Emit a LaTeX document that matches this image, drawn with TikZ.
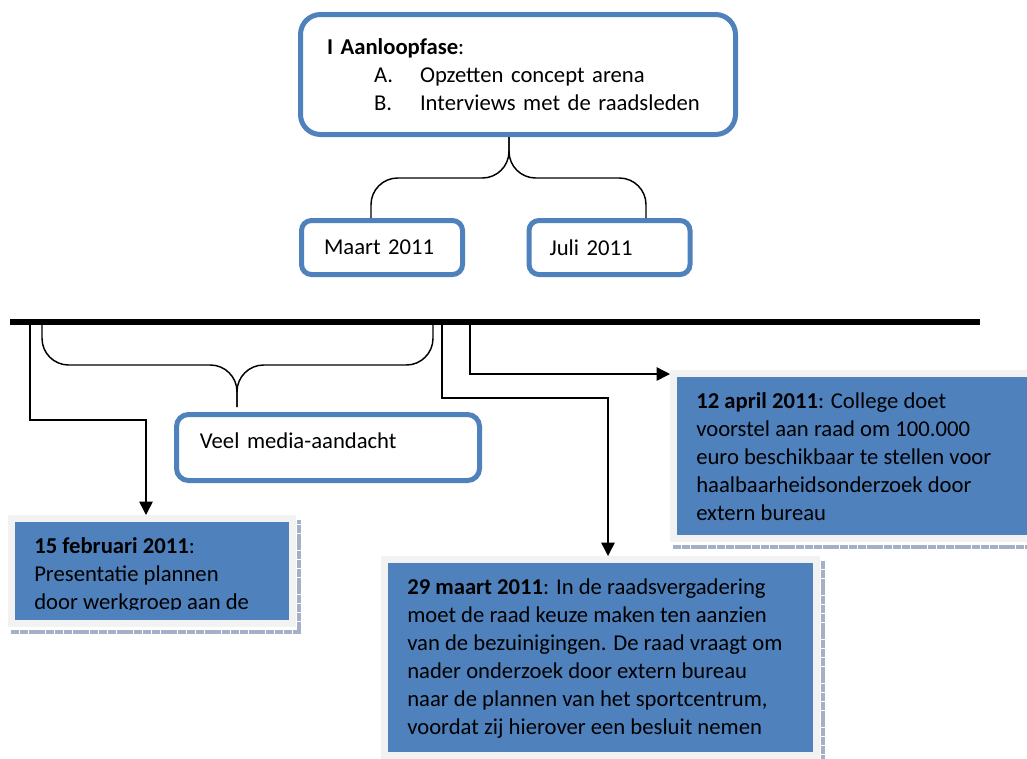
\documentclass[tikz,border=0pt]{standalone}
\usepackage{fontspec}
\setmainfont{Carlito}
\usetikzlibrary{arrows.meta}
\usetikzlibrary{positioning}

\definecolor{boxblue}{RGB}{79,129,189}
\definecolor{framegray}{RGB}{242,242,242}
\definecolor{shadowgray}{RGB}{165,176,198}

\tikzset{
  roundbox/.style={draw=boxblue, line width=3.75pt, fill=white, align=left, font=\fontsize{17}{21}\selectfont},
  datebox/.style={fill=boxblue, inner sep=0pt, outer sep=5.25pt, preaction={draw=framegray, line width=10.5pt}},
  datetext/.style={anchor=north west, inner sep=0pt, align=left, font=\fontsize{17}{21}\selectfont},
  conn/.style={draw=black, line width=1.1pt, -{Triangle[length=10pt,width=10pt]}},
  brace/.style={draw=black, line width=1.1pt, rounded corners=20pt},
  shadowline/.style={draw=shadowgray, line width=3pt, dash pattern=on 6pt off 0.6pt}
}

\begin{document}
\begin{tikzpicture}[x=0.75pt, y=-0.75pt]
    \useasboundingbox (0,0) rectangle (1027,758);
    \clip (0,0) rectangle (1027,758);

    % Aanloopfase and its two dates
    \node[roundbox, rounded corners=15pt, minimum width=326.25pt, minimum height=90pt,
          inner xsep=19.9pt, text width=286.45pt] (aanloop) at (518,74.5)
        {\textbf{I Aanloopfase}:\\
         \hspace*{35.25pt}\makebox[34.5pt][l]{A.}Opzetten concept arena\\
         \hspace*{35.25pt}\makebox[34.5pt][l]{B.}Interviews met de raadsleden};
    \node[roundbox, rounded corners=7.5pt, minimum width=120.75pt, minimum height=40.5pt,
          inner xsep=16.9pt, text width=86.95pt] (maart) at (382,247.5) {Maart 2011};
    \node[roundbox, rounded corners=7.5pt, minimum width=120.75pt, minimum height=40.5pt,
          inner xsep=15.4pt, text width=89.95pt] (juli) at (609.5,247.5) {Juli 2011};

    \coordinate (btop) at (509,137);
    \coordinate (bleft) at (371,218);
    \coordinate (bright) at (646,218);
    \draw[brace] (bleft) -- (371,178) -- (509,178) -- (btop);
    \draw[brace] (btop) -- (509,178) -- (646,178) -- (bright);

    % timeline
    \coordinate (tlstart) at (10,322);
    \coordinate (tlend) at (980,322);
    \coordinate (c1) at (30,322);
    \coordinate (c2) at (442,322);
    \coordinate (c3) at (470,322);
    \coordinate (mleft) at (42,322);
    \coordinate (mright) at (433,322);
    \coordinate (mtip) at (237,407);

    \node[roundbox, rounded corners=9pt, minimum width=227.25pt, minimum height=49.5pt,
          inner xsep=17.6pt, text width=192.05pt, text depth=10pt] (media) at (328,447.5) {Veel media-aandacht};
    \draw[brace] (mleft) -- (42,365) -- (237,365) -- (mtip);
    \draw[brace] (mtip) -- (237,365) -- (433,365) -- (mright);

    % dated boxes
    \node[datebox, minimum width=205.5pt, minimum height=73.5pt] (feb) at (152,571) {};
    \node[datebox, minimum width=318.75pt, minimum height=141.75pt] (mrt) at (600.5,657.5) {};
    \node[datebox, minimum width=272.25pt, minimum height=118.5pt] (apr) at (858.5,456) {};

    \draw[shadowline] ([shift={(3,5)}]feb.south west) -- ([shift={(3,5)}]feb.south east) -- ([shift={(3,5)}]feb.north east);
    \draw[shadowline] ([shift={(3,5)}]mrt.north east) -- ([shift={(3,5)}]mrt.south east);
    \draw[shadowline] ([shift={(3,5)}]apr.south west) -- ([shift={(3,5)}]apr.south east);

    \begin{scope}
        \clip (feb.north west) rectangle ([shift={(0,-18)}]feb.south east);
        \node[datetext] (febtext) at ([shift={(26,22)}]feb.north west)
            {\textbf{15 februari 2011}:\\Presentatie plannen\\door werkgroep aan de};
    \end{scope}
    \node[datetext] (mrttext) at ([shift={(26,22)}]mrt.north west)
        {\textbf{29 maart 2011}: In de raadsvergadering\\
         moet de raad keuze maken ten aanzien\\
         van de bezuinigingen. De raad vraagt om\\
         nader onderzoek door extern bureau\\
         naar de plannen van het sportcentrum,\\
         voordat zij hierover een besluit nemen};
    \node[datetext] (aprtext) at ([shift={(26,22)}]apr.north west)
        {\textbf{12 april 2011}: College doet\\
         voorstel aan raad om 100.000\\
         euro beschikbaar te stellen voor\\
         haalbaarheidsonderzoek door\\
         extern bureau};

    % connectors from the timeline
    \draw[conn] (c1) |- ([shift={(-6,-95)}]feb.north) -- ([shift={(-6,0)}]feb.north);
    \draw[conn] (c2) |- ([shift={(7.5,-158)}]mrt.north) -- ([shift={(7.5,0)}]mrt.north);
    \draw[conn] (c3) |- ([shift={(0,4)}]apr.north west);

    \draw[line width=4.5pt] (tlstart) -- (tlend);

\end{tikzpicture}
\end{document}
